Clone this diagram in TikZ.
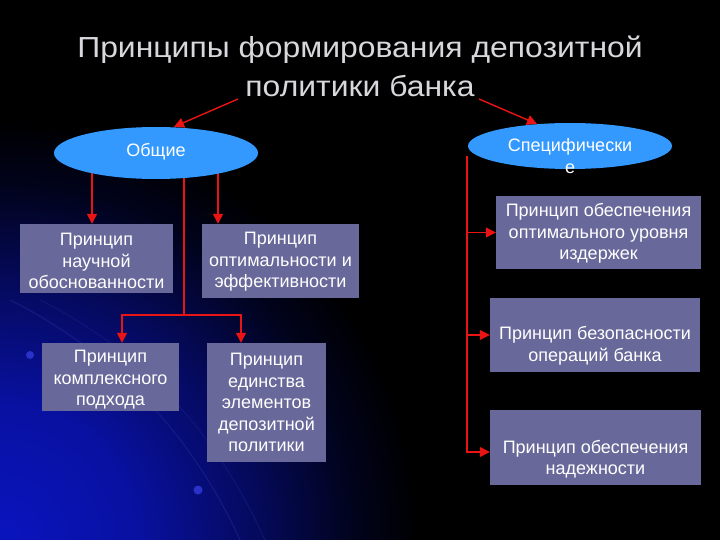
\documentclass[tikz,border=0pt]{standalone}
\usepackage{fontspec}
\setmainfont{Liberation Sans}
\newfontfamily\titlefont[FakeStretch=1.1]{Liberation Sans}
\usetikzlibrary{arrows.meta,shapes.geometric}
\pgfdeclarelayer{back}
\pgfdeclarelayer{bg}
\pgfsetlayers{back,bg,main}
\definecolor{boxfill}{RGB}{104,104,154}
\definecolor{ellfill}{RGB}{51,153,255}
\definecolor{titlegray}{RGB}{215,215,220}
\definecolor{arrred}{RGB}{235,20,20}
\definecolor{glowblue}{RGB}{10,20,190}
\definecolor{arcblue}{RGB}{40,50,200}
\pgfdeclareradialshading{glow}{\pgfpoint{0bp}{0bp}}{color(0bp)=(glowblue); color(8bp)=(glowblue!85!black); color(15bp)=(glowblue!50!black); color(21bp)=(glowblue!15!black); color(25bp)=(black); color(50bp)=(black)}
\begin{document}
\begin{tikzpicture}[x=1pt,y=-1pt,
  box/.style={rectangle, fill=boxfill, inner sep=0pt},
  txt/.style={text=white, align=center, inner sep=0pt, font=\fontsize{18}{21.5}\selectfont},
  ell/.style={ellipse, fill=ellfill, inner sep=0pt},
  conn/.style={draw=arrred, line width=1.4pt},
  arr/.style={conn, -{Triangle[length=10pt,width=10pt]}}]
\useasboundingbox (0,0) rectangle (720,540);
\begin{pgfonlayer}{back}
\fill[black] (0,0) rectangle (720,540);
\begin{scope}
\clip (0,0) rectangle (720,540);
\shade[shading=glow] (0,540) circle (420pt);
\draw[arcblue!70!black, line width=1.2pt, opacity=0.6] (10,300) .. controls (110,350) and (190,430) .. (240,540);
\draw[arcblue!70!black, line width=1pt, opacity=0.45] (40,300) .. controls (140,350) and (215,430) .. (265,540);
\fill[arcblue] (30,355) circle (4pt);
\fill[arcblue] (198,490) circle (4.5pt);
\end{scope}
\end{pgfonlayer}

% title
\node[text=titlegray, align=center, inner sep=0pt, font=\titlefont\fontsize{29}{39}\selectfont] (title) at (360,66) {Принципы формирования депозитной\\политики банка};
\coordinate (tl) at (238,99);
\coordinate (tr) at (479,99);

% ellipses
\node[ell, minimum width=204pt, minimum height=52pt] (gen) at (156,153) {};
\node[txt] (gent) at (156,152) {Общие};
\node[ell, minimum width=204pt, minimum height=46pt] (spec) at (570,146) {};
\node[txt, font=\fontsize{18}{22}\selectfont] (spect) at (570,156) {Специфически\\е};

% left boxes
\node[box, minimum width=153pt, minimum height=69pt] (b1) at (96.5,258.5) {};
\node[txt] (t1) at (96.5,261) {Принцип\\научной\\обоснованности};
\node[box, minimum width=157pt, minimum height=74pt] (b2) at (280.5,261) {};
\node[txt] (t2) at (280.5,262) {Принцип\\оптимальности и\\эффективности};
\node[box, minimum width=137pt, minimum height=68pt] (b3) at (110.5,377) {};
\node[txt] (t3) at (110.5,380) {Принцип\\комплексного\\подхода};
\node[box, minimum width=119pt, minimum height=119pt] (b4) at (266.5,402.5) {};
\node[txt] (t4) at (266.5,402.5) {Принцип\\единства\\элементов\\депозитной\\политики};

% right boxes
\node[box, minimum width=205pt, minimum height=73pt] (b5) at (598.5,232.5) {};
\node[txt] (t5) at (598.5,233.5) {Принцип обеспечения\\оптимального уровня\\издержек};
\node[box, minimum width=210pt, minimum height=74pt] (b6) at (595,335) {};
\node[txt] (t6) at (595,346) {Принцип безопасности\\операций банка};
\node[box, minimum width=211pt, minimum height=75pt] (b7) at (595.5,447.5) {};
\node[txt] (t7) at (595.5,459) {Принцип обеспечения\\надежности};

\coordinate (j) at (184,315);
\coordinate (rtop) at (467,156);

\begin{pgfonlayer}{bg}
\draw[arr] (tl) -- (gen.north -| 174,0);
\draw[arr] (tr) -- (537,124);
\draw[arr] ([xshift=-4.5pt]b1.north |- gen.center) -- ([xshift=-4.5pt]b1.north);
\draw[arr] ([xshift=-62.5pt]b2.north |- gen.center) -- ([xshift=-62.5pt]b2.north);
\draw[conn] (j |- gen.center) -- (j);
\draw[arr] (j) -| ([xshift=11.5pt]b3.north);
\draw[arr] (j) -| ([xshift=-25.5pt]b4.north);
\draw[conn] (rtop) -- (rtop |- b7.west);
\draw[arr] (rtop |- b5.west) -- (b5.west);
\draw[arr] (rtop |- b6.west) -- (b6.west);
\draw[arr] (rtop) |- ([yshift=-4.5pt]b7.west);
\end{pgfonlayer}
\end{tikzpicture}
\end{document}
